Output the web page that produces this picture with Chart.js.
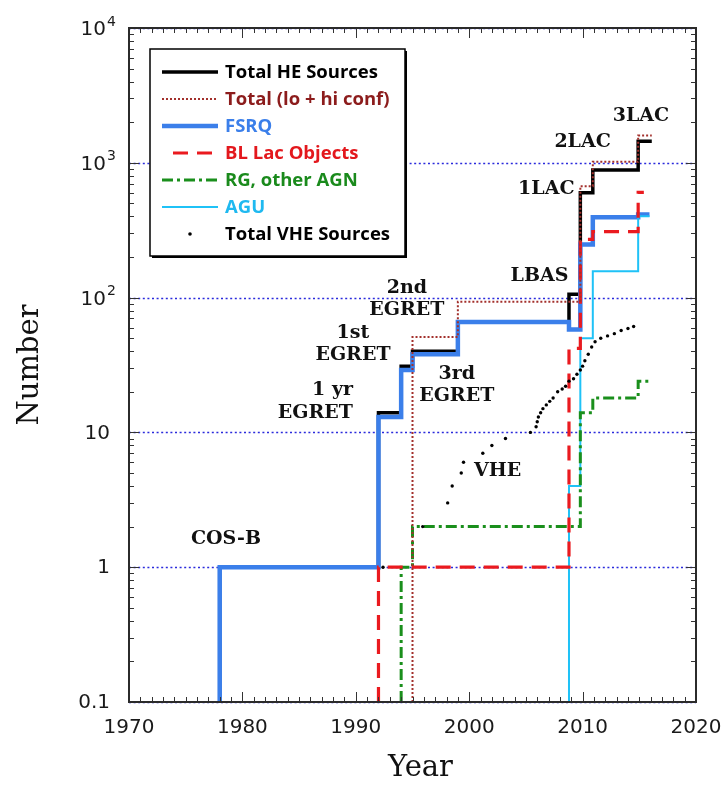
<!DOCTYPE html>
<html>
<head>
<meta charset="utf-8">
<script src="https://cdn.jsdelivr.net/npm/chart.js@4.4.1/dist/chart.umd.min.js"></script>
<style>
  html, body { margin: 0; padding: 0; background: #fff; }
  #wrap { width: 728px; height: 790px; position: relative; }
</style>
</head>
<body>
<div id="wrap"><canvas id="c"></canvas></div>
<script>
// Cumulative source counts; each year marks the epoch where a new count begins,
// the last year of each list is where the curve stops.
const heYears    = [1978, 1992, 1994, 1995, 1999, 2008.8, 2009.8, 2010.9, 2014.9, 2016.1];
const heCounts   = [1, 14, 31, 40, 66, 106, 599, 886, 1444, 1444];

const loHiYears  = [1995, 1999, 2009.8, 2010.9, 2014.9, 2016.1];
const loHiCounts = [51, 93, 671, 1017, 1591, 1591];

const fsrqYears  = [1978, 1992, 1994, 1995, 1999, 2008.8, 2009.8, 2010.9, 2014.9, 2015.9];
const fsrqCounts = [1, 13, 29, 38, 66, 58, 248, 394, 414, 414];

const blLacYears  = [1992, 2008.8, 2009.8, 2010.9, 2014.9, 2015.4];
const blLacCounts = [1, 42, 270, 309, 604, 604];

const rgYears  = [1994, 1995, 2009.8, 2010.9, 2014.9, 2015.8];
const rgCounts = [1, 2, 14, 18, 24, 24];

const aguYears  = [2008.8, 2009.8, 2010.9, 2014.9, 2015.9];
const aguCounts = [4, 50, 157, 402, 402];

// Very-high-energy source tally
const vheYears  = [1992.4, 1995.9, 1998.1, 1998.5, 1999.3, 1999.5, 2001.2, 2002.0, 2003.2, 2005.4,
                   2005.9, 2006.0, 2006.1, 2006.3, 2006.5, 2006.8, 2007.1, 2007.4, 2007.8, 2008.2,
                   2008.5, 2008.8, 2009.2, 2009.5, 2009.8, 2010.0, 2010.2, 2010.5, 2010.8, 2011.1,
                   2011.6, 2012.2, 2012.8, 2013.4, 2014.0, 2014.5];
const vheCounts = [1, 2, 3, 4, 5, 6, 7, 8, 9, 10,
                   11, 12, 13, 14, 15, 16, 17, 18, 20, 21,
                   22, 24, 25, 27, 29, 31, 34, 38, 43, 47,
                   50, 52, 54, 57, 59, 61];

// Axis ticks: y labels are a base with an optional exponent
const xTickYears = [1970, 1980, 1990, 2000, 2010, 2020];
const yDecades   = [0.1, 1, 10, 100, 1000, 10000];
const yTickBase  = ['0.1', '1', '10', '10', '10', '10'];
const yTickExp   = ['', '', '', '2', '3', '4'];

// Catalog labels placed in data coordinates
const noteTexts  = [['COS-B'], ['1 yr', 'EGRET'], ['1st', 'EGRET'], ['2nd', 'EGRET'], ['3rd', 'EGRET'],
                    ['VHE'], ['LBAS'], ['1LAC'], ['2LAC'], ['3LAC']];
const noteYears  = [1978.55, 1989.75, 1989.75, 1994.5, 1998.9, 2002.5, 2006.2, 2006.8, 2010.0, 2015.15];
const noteValues = [1.61, 16.9, 45.3, 97.5, 22.5, 5.2, 145, 642, 1430, 2230];
const noteAlign  = ['center', 'right', 'center', 'center', 'center', 'center', 'center', 'center', 'center', 'center'];

const AXIS_FLOOR = yDecades[0];

function stepSeries(years, counts) {
  const pts = [{ x: years[0], y: AXIS_FLOOR }];
  years.forEach((yr, i) => pts.push({ x: yr, y: counts[i] }));
  return pts;
}

const lineBase = { stepped: true, pointRadius: 0, fill: false, tension: 0, borderCapStyle: 'butt' };

const datasets = [
  Object.assign({}, lineBase, { label: 'Total HE Sources', data: stepSeries(heYears, heCounts),
    borderColor: '#000000', borderWidth: 3.5, order: 6, textColor: '#000000' }),
  Object.assign({}, lineBase, { label: 'Total (lo + hi conf)', data: stepSeries(loHiYears, loHiCounts),
    borderColor: '#a3302c', borderWidth: 2, borderDash: [2, 2], order: 1, textColor: '#8c1c1c' }),
  Object.assign({}, lineBase, { label: 'FSRQ', data: stepSeries(fsrqYears, fsrqCounts),
    borderColor: '#3b7fea', borderWidth: 4.5, order: 5, textColor: '#3b7fea' }),
  Object.assign({}, lineBase, { label: 'BL Lac Objects', data: stepSeries(blLacYears, blLacCounts),
    borderColor: '#ea1a1f', borderWidth: 3.2, borderDash: [15, 9], order: 2, textColor: '#e3181d',
    legendFrom: 11 }),
  Object.assign({}, lineBase, { label: 'RG, other AGN', data: stepSeries(rgYears, rgCounts),
    borderColor: '#1a8f1c', borderWidth: 3, borderDash: [11, 4, 3, 4], order: 3, textColor: '#1a8a1c' }),
  Object.assign({}, lineBase, { label: 'AGU', data: stepSeries(aguYears, aguCounts),
    borderColor: '#1fc2f7', borderWidth: 2, order: 4, textColor: '#1fb9f0' }),
  { label: 'Total VHE Sources', data: vheYears.map((yr, i) => ({ x: yr, y: vheCounts[i] })),
    showLine: false, pointRadius: 1.7, pointBackgroundColor: '#000', pointBorderWidth: 0,
    borderColor: '#000', order: 0, textColor: '#000000', isDots: true }
];

// Grid lines, tick marks, frame, y labels, catalog labels, legend and axis titles
const decorPlugin = {
  id: 'decor',
  beforeDatasetsDraw(chart) {
    const { ctx, chartArea: a, scales: { y } } = chart;
    ctx.save();
    ctx.strokeStyle = '#2b2bdc';
    ctx.lineWidth = 1.3;
    ctx.setLineDash([2, 2.6]);
    yDecades.forEach(v => {
      const py = Math.round(y.getPixelForValue(v)) + 0.5;
      ctx.beginPath(); ctx.moveTo(a.left, py); ctx.lineTo(a.right, py); ctx.stroke();
    });
    ctx.restore();
  },
  afterDatasetsDraw(chart) {
    const { ctx, chartArea: a, scales: { x, y } } = chart;
    ctx.save();
    ctx.strokeStyle = '#333';
    ctx.lineWidth = 1;
    ctx.setLineDash([]);
    // x ticks every year, longer every decade (bottom and top)
    for (let yr = xTickYears[0]; yr <= xTickYears[xTickYears.length - 1]; yr++) {
      const px = Math.round(x.getPixelForValue(yr)) + 0.5;
      const len = yr % 10 === 0 ? 10 : 5;
      ctx.beginPath();
      ctx.moveTo(px, a.bottom); ctx.lineTo(px, a.bottom - len);
      ctx.moveTo(px, a.top); ctx.lineTo(px, a.top + len);
      ctx.stroke();
    }
    // y ticks: decades long, 2..9 short (left and right)
    yDecades.forEach((d, i) => {
      const marks = [{ v: d, len: 10 }];
      if (i < yDecades.length - 1) for (let m = 2; m <= 9; m++) marks.push({ v: d * m, len: 5 });
      marks.forEach(mk => {
        const py = Math.round(y.getPixelForValue(mk.v)) + 0.5;
        ctx.beginPath();
        ctx.moveTo(a.left, py); ctx.lineTo(a.left + mk.len, py);
        ctx.moveTo(a.right, py); ctx.lineTo(a.right - mk.len, py);
        ctx.stroke();
      });
    });
    ctx.lineWidth = 2;
    ctx.strokeStyle = '#2b2b2b';
    ctx.strokeRect(a.left, a.top, a.right - a.left, a.bottom - a.top);
    ctx.restore();
  },
  afterDraw(chart) {
    const { ctx, chartArea: a, scales: { x, y } } = chart;
    ctx.save();

    // y tick labels (base number with raised exponent)
    ctx.fillStyle = '#1a1a1a';
    ctx.textBaseline = 'middle';
    yDecades.forEach((v, i) => {
      const py = y.getPixelForValue(v);
      ctx.textAlign = 'right';
      if (yTickExp[i]) {
        ctx.font = '20px "DejaVu Sans"';
        ctx.fillText(yTickBase[i], a.left - 23, py + 2);
        ctx.font = '14px "DejaVu Sans"';
        ctx.textAlign = 'left';
        ctx.fillText(yTickExp[i], a.left - 22, py - 6);
      } else {
        ctx.font = '20px "DejaVu Sans"';
        ctx.fillText(yTickBase[i], a.left - 19, py + 1);
      }
    });

    // catalog labels
    ctx.fillStyle = '#111';
    ctx.font = 'bold 19px "DejaVu Serif"';
    ctx.textBaseline = 'middle';
    const lh = 22.5;
    noteTexts.forEach((lines, i) => {
      const px = x.getPixelForValue(noteYears[i]);
      const py = y.getPixelForValue(noteValues[i]);
      ctx.textAlign = noteAlign[i];
      const y0 = py - (lines.length - 1) * lh / 2;
      lines.forEach((t, k) => ctx.fillText(t, px, y0 + k * lh));
    });

    // legend box
    const bx = a.left + 21, by = a.top + 21, bw = 255, bh = 207;
    ctx.fillStyle = '#000';
    ctx.fillRect(bx + 2, by + 2, bw, bh);
    ctx.fillStyle = '#fff';
    ctx.fillRect(bx, by, bw, bh);
    ctx.strokeStyle = '#000';
    ctx.lineWidth = 1.5;
    ctx.strokeRect(bx, by, bw, bh);
    ctx.font = 'bold 18.5px "Open Sans"';
    ctx.textAlign = 'left';
    ctx.textBaseline = 'middle';
    chart.data.datasets.forEach((ds, i) => {
      const ry = by + 23 + i * 27;
      const x0 = bx + 12, x1 = bx + 68;
      if (ds.isDots) {
        ctx.fillStyle = ds.pointBackgroundColor;
        ctx.beginPath(); ctx.arc(bx + 40, ry, 1.8, 0, Math.PI * 2); ctx.fill();
      } else {
        ctx.strokeStyle = ds.borderColor;
        ctx.lineWidth = ds.borderWidth;
        ctx.setLineDash(ds.borderDash || []);
        ctx.lineCap = 'butt';
        ctx.beginPath(); ctx.moveTo(x0 + (ds.legendFrom || 0), ry); ctx.lineTo(x1, ry); ctx.stroke();
        ctx.setLineDash([]);
      }
      ctx.fillStyle = ds.textColor;
      ctx.fillText(ds.label, bx + 75, ry + 1);
    });

    // axis titles
    ctx.fillStyle = '#111';
    ctx.font = '29px "DejaVu Serif"';
    ctx.textAlign = 'center';
    ctx.textBaseline = 'middle';
    ctx.fillText('Year', (a.left + a.right) / 2 + 8, 768);
    ctx.translate(30, (a.top + a.bottom) / 2);
    ctx.rotate(-Math.PI / 2);
    ctx.fillText('Number', 0, 0);
    ctx.restore();
  }
};

new Chart(document.getElementById('c'), {
  type: 'line',
  data: { datasets },
  options: {
    responsive: true,
    maintainAspectRatio: false,
    animation: false,
    layout: { padding: { left: 0, right: 32, top: 28, bottom: 0 } },
    plugins: { legend: { display: false }, tooltip: { enabled: false } },
    scales: {
      x: {
        type: 'linear',
        min: xTickYears[0],
        max: xTickYears[xTickYears.length - 1],
        grid: { display: false },
        border: { display: false },
        afterBuildTicks: s => { s.ticks = xTickYears.map(v => ({ value: v })); },
        afterFit: s => { s.height = 88; },
        ticks: {
          autoSkip: false, maxRotation: 0, padding: 6,
          color: '#1a1a1a',
          font: { family: '"DejaVu Sans"', size: 20 },
          callback: (v, i) => String(xTickYears[i])
        }
      },
      y: {
        type: 'logarithmic',
        min: yDecades[0],
        max: yDecades[yDecades.length - 1],
        grid: { display: false },
        border: { display: false },
        afterBuildTicks: s => { s.ticks = yDecades.map(v => ({ value: v })); },
        afterFit: s => { s.width = 129; },
        ticks: { display: false }
      }
    }
  },
  plugins: [decorPlugin]
});
</script>
</body>
</html>
